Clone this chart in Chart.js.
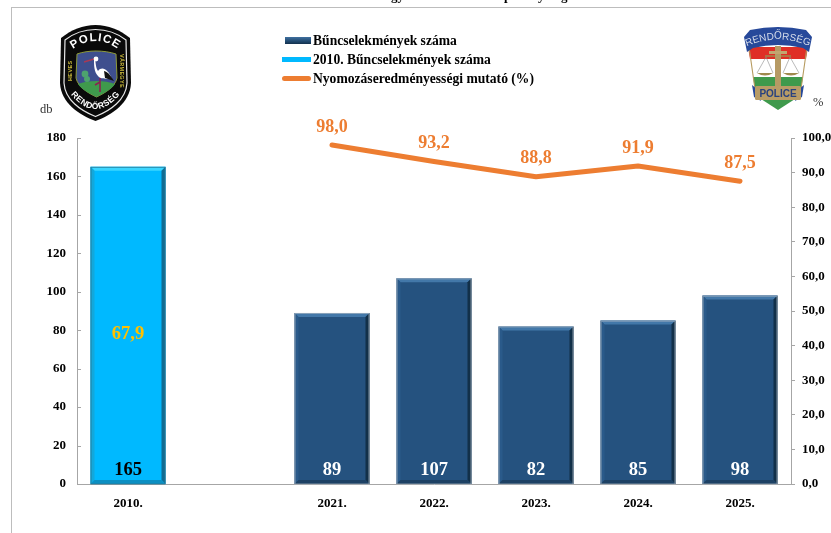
<!DOCTYPE html>
<html lang="hu"><head><meta charset="utf-8">
<script src="https://cdn.jsdelivr.net/npm/chart.js@4"></script>
<style>
html,body{margin:0;padding:0;background:#fff;width:831px;height:533px;overflow:hidden;font-family:"Liberation Serif",serif}
#c{position:absolute;left:0;top:0;filter:blur(.25px)}
.frame-l{position:absolute;left:11px;top:7px;width:1px;height:526px;background:#bdbdbd}
.frame-t{position:absolute;left:11px;top:7px;width:820px;height:1px;background:#bdbdbd}
.lg{position:absolute;font-weight:bold;font-size:13.6px;line-height:16px;color:#000;white-space:nowrap;left:313px;filter:blur(.25px)}
.sw{position:absolute}
.u{position:absolute;font-size:12.5px;color:#333;line-height:14px;filter:blur(.25px)}
.t{position:absolute;top:-11px;font-weight:bold;font-size:13px;line-height:14px;color:#000}
svg{position:absolute;filter:blur(.4px)}
</style></head><body>
<canvas id="c" width="831" height="533"></canvas>
<div class="frame-l"></div><div class="frame-t"></div>
<div class="t" style="left:391px">gy</div><div class="t" style="left:504px">p</div><div class="t" style="left:538px">y</div><div class="t" style="left:561px">g</div>

<div class="sw" style="left:285px;top:37px;width:26px;height:7px;background:linear-gradient(#3f70a0,#1d4468 70%,#14304c)"></div>
<div class="lg" style="top:33px">Bűncselekmények száma</div>
<div class="sw" style="left:282px;top:57px;width:29px;height:5px;background:#00b9ff"></div>
<div class="lg" style="top:52px">2010. Bűncselekmények száma</div>
<div class="sw" style="left:282px;top:76px;width:29px;height:5px;border-radius:3px;background:#ed7d31"></div>
<div class="lg" style="top:71px">Nyomozáseredményességi mutató (%)</div>
<div class="u" style="left:40px;top:102px">db</div>
<div class="u" style="left:813px;top:95px">%</div>

<svg style="left:60px;top:25px" width="71" height="96" viewBox="0 0 71 96">
<path d="M35.5 0C48 0 60 5 70 13L71 58C70 78 52 90 35.5 96C19 90 1 78 0 58L1 13C11 5 23 0 35.5 0Z" fill="#0a0a0a"/>
<path d="M35.5 4.5C47 4.5 57 8 66 15L67 58C66 75 50 86 35.5 91.5C21 86 5 75 4 58L5 15C14 8 24 4.5 35.5 4.5Z" fill="none" stroke="#e8e8e8" stroke-width="1.2"/>
<defs><path id="a1" d="M9 27Q35.5 5 62 27"/><path id="a2" d="M4 60Q35 108 67 60"/></defs>
<text font-family="Liberation Sans" font-weight="bold" font-size="11.5" letter-spacing="1" fill="#fff"><textPath href="#a1" startOffset="50%" text-anchor="middle">POLICE</textPath></text>
<text font-family="Liberation Sans" font-weight="bold" font-size="8.5" letter-spacing=".5" fill="#fff"><textPath href="#a2" startOffset="50%" text-anchor="middle">RENDŐRSÉG</textPath></text>
<text transform="translate(12,56) rotate(-90)" font-family="Liberation Sans" font-weight="bold" font-size="5.5" fill="#c9b83a" letter-spacing=".4">HEVES</text>
<text transform="translate(60,29) rotate(90)" font-family="Liberation Sans" font-weight="bold" font-size="5.5" fill="#c9b83a" letter-spacing=".3">VÁRMEGYE</text>
<path d="M17 29C28 25 44 25 56 29L57 53C55 62 45 68 36.5 72C28 68 18 62 16 53Z" fill="#3e4f8e" stroke="#8d9a3a" stroke-width="1"/>
<path d="M18 59C28 55 45 55 55 59C51 65 42 69 36.5 72C31 69 22 65 18 59Z" fill="#3f9a4c"/>
<path d="M34 34L24 37" stroke="#a83a55" stroke-width="1.4"/>
<circle cx="36" cy="34" r="2.4" fill="#fff"/>
<path d="M35 34C36 40 36 43 38 46C42 41 48 44 52 54C46 54 40 54 38 51C34 47 34 40 34 34Z" fill="#fff"/>
<path d="M44 46C48 47 51 51 54 56L45 53Z" fill="#111"/>
<path d="M40 53L40 67M40 57L35 60" stroke="#8a2252" stroke-width="1.6" fill="none"/>
<circle cx="25" cy="49" r="3.4" fill="#4da36e"/><circle cx="27" cy="54" r="3" fill="#4da36e"/>
</svg>

<svg style="left:743px;top:27px" width="70" height="83" viewBox="0 0 70 83">
<path d="M5 20L12 62L14 72L35 83L56 72L58 62L65 20Z" fill="#fff"/>
<path d="M5 20L65 20L63 32L7 32Z" fill="#df2f26"/>
<path d="M10 50L60 50L58 62L12 62Z" fill="#3f9a4c"/>
<path d="M6 20L12 62M64 20L58 62" stroke="#b69a5e" stroke-width="1.1" fill="none"/>
<path d="M1 10L7 3Q35 -3 63 3L69 10L66 25L60 21Q35 15 10 21L4 25Z" fill="#27499a"/>
<defs><path id="a3" d="M2 20Q35 5 68 20"/></defs>
<text font-family="Liberation Sans" font-size="10" fill="#d5dcea"><textPath href="#a3" startOffset="50%" text-anchor="middle">RENDŐRSÉG</textPath></text>
<path d="M14 62L9 58L11 70L18 74Z M56 62L61 58L59 70L52 74Z" fill="#27499a"/>
<path d="M18 72L52 72L35 83Z" fill="#3f9a4c"/>
<path d="M23 30L14 46M23 30L30 46M47 30L40 46M47 30L56 46" stroke="#8b8b8b" stroke-width=".6"/>
<path d="M14 46Q22 51 30 46ZM40 46Q48 51 56 46Z" fill="#a08a4e"/>
<path d="M22 29H48" stroke="#a08a4e" stroke-width="1.5"/>
<rect x="32" y="19" width="6" height="40" fill="#b69a64"/>
<rect x="26" y="24" width="18" height="3" fill="#c2a670"/>
<rect x="12" y="59" width="46" height="14" rx="1.5" fill="#b89c66"/>
<text x="35" y="70" text-anchor="middle" font-family="Liberation Sans" font-weight="bold" font-size="10" fill="#29427f">POLICE</text>
</svg>

<script>
const categories = ["2010.", "", "2021.", "2022.", "2023.", "2024.", "2025."];
const crimeCounts = [null, null, 89, 107, 82, 85, 98];
const crimeCount2010 = [165, null, null, null, null, null, null];
const clearanceRate = [null, null, 98.0, 93.2, 88.8, 91.9, 87.5];
const clearanceRate2010Label = "67,9";
const seriesNames = ["Bűncselekmények száma", "2010. Bűncselekmények száma", "Nyomozáseredményességi mutató (%)"];
const huComma = v => Number(v).toFixed(1).replace(".", ",");
const font = (s) => ({family: '"Liberation Serif", serif', weight: "bold", size: s});
const fontCss = s => `bold ${s}px "Liberation Serif", serif`;

const bevels = {
  dark: {top:"#4378a9", left:"#2a5a8a", right:"#123049", bottom:"#1d4164", edge:"rgba(175,185,195,.7)"},
  cyan: {top:"#3ad6ff", left:"#12a8dc", right:"#116c92", bottom:"#0c8fc2", edge:"rgba(40,120,150,.8)"}
};
function poly(ctx, pts, color){
  ctx.fillStyle = color; ctx.beginPath();
  pts.forEach((p,i)=> i?ctx.lineTo(p[0],p[1]):ctx.moveTo(p[0],p[1]));
  ctx.closePath(); ctx.fill();
}
const barStyle = {
  id:"barStyle",
  afterDatasetDraw(chart, args){
    if(args.meta.type !== "bar") return;
    const s = args.index === 0 ? bevels.dark : bevels.cyan;
    const src = chart.data.datasets[args.index].data;
    const ctx = chart.ctx, d = 4;
    args.meta.data.forEach((el,i)=>{
      if(src[i] == null) return;
      const p = el.getProps(["x","y","base","width"]);
      const l=p.x-p.width/2, r=p.x+p.width/2, t=p.y, b=p.base;
      ctx.save();
      poly(ctx,[[l,t],[r,t],[r-d,t+d],[l+d,t+d]],s.top);
      poly(ctx,[[l,t],[l+d,t+d],[l+d,b-d],[l,b]],s.left);
      poly(ctx,[[r,t],[r-d,t+d],[r-d,b-d],[r,b]],s.right);
      poly(ctx,[[l,b],[l+d,b-d],[r-d,b-d],[r,b]],s.bottom);
      ctx.strokeStyle=s.edge; ctx.lineWidth=1;
      ctx.strokeRect(l+.5,t+.5,p.width-1,b-t-.5);
      ctx.restore();
    });
  }
};
const axisTicks = {
  id:"axisTicks",
  afterDatasetsDraw(chart){
    const ctx=chart.ctx, y=chart.scales.y;
    ctx.save(); ctx.strokeStyle="#a6a6a6"; ctx.lineWidth=1;
    y.ticks.forEach(t=>{
      const py=Math.round(y.getPixelForValue(t.value))+.5;
      ctx.beginPath(); ctx.moveTo(y.right,py); ctx.lineTo(y.right+4,py); ctx.stroke();
    });
    ctx.restore();
  }
};
const valueLabels = {
  id:"valueLabels",
  afterDatasetsDraw(chart){
    const ctx=chart.ctx, y=chart.scales.y;
    ctx.save(); ctx.textAlign="center"; ctx.textBaseline="middle";
    ctx.font=fontCss(18.5);
    chart.getDatasetMeta(0).data.forEach((el,i)=>{
      if(crimeCounts[i] == null) return;
      ctx.fillStyle="#fff"; ctx.fillText(crimeCounts[i], el.x, el.base-13.5);
    });
    chart.getDatasetMeta(1).data.forEach((el,i)=>{
      if(crimeCount2010[i] == null) return;
      ctx.fillStyle="#000"; ctx.fillText(crimeCount2010[i], el.x, el.base-13.5);
      ctx.fillStyle="#ffc000"; ctx.fillText(clearanceRate2010Label, el.x, y.getPixelForValue(78));
    });
    ctx.font=fontCss(18); ctx.fillStyle="#ed7d31";
    chart.getDatasetMeta(2).data.forEach((el,i)=>{
      if(clearanceRate[i] == null) return;
      ctx.fillText(huComma(clearanceRate[i]), el.x, el.y-18);
    });
    ctx.restore();
  }
};

new Chart(document.getElementById("c"),{
  data:{labels:categories,datasets:[
    {type:"bar",label:seriesNames[0],data:crimeCounts,backgroundColor:"#25527f",yAxisID:"y",grouped:false,order:2,barPercentage:.735,categoryPercentage:1},
    {type:"bar",label:seriesNames[1],data:crimeCount2010,backgroundColor:"#00b9ff",yAxisID:"y",grouped:false,order:3,barPercentage:.735,categoryPercentage:1},
    {type:"line",label:seriesNames[2],data:clearanceRate,borderColor:"#ed7d31",borderWidth:5,borderCapStyle:"round",borderJoinStyle:"round",pointRadius:0,tension:0,yAxisID:"y2",order:1,spanGaps:false}
  ]},
  options:{
    responsive:false,animation:false,
    layout:{padding:{top:138,left:0,right:0,bottom:0}},
    plugins:{legend:{display:false},tooltip:{enabled:false},title:{display:false}},
    scales:{
      x:{
        grid:{display:false,drawTicks:false},
        border:{color:"#a6a6a6"},
        ticks:{color:"#000",font:font(13),padding:12,autoSkip:false,maxRotation:0},
        afterFit(s){s.height=49;}
      },
      y:{
        position:"left",min:0,max:180,
        grid:{display:false,drawTicks:false},
        border:{color:"#a6a6a6"},
        ticks:{stepSize:20,color:"#000",font:font(13),padding:11},
        afterFit(s){s.width=77;}
      },
      y2:{
        position:"right",min:0,max:100,
        grid:{drawOnChartArea:false,drawTicks:true,tickLength:4,color:"#a6a6a6"},
        border:{color:"#a6a6a6"},
        ticks:{stepSize:10,color:"#000",font:font(13),padding:7,callback:v=>huComma(v)},
        afterFit(s){s.width=40;}
      }
    }
  },
  plugins:[barStyle,axisTicks,valueLabels]
});
</script>
</body></html>
